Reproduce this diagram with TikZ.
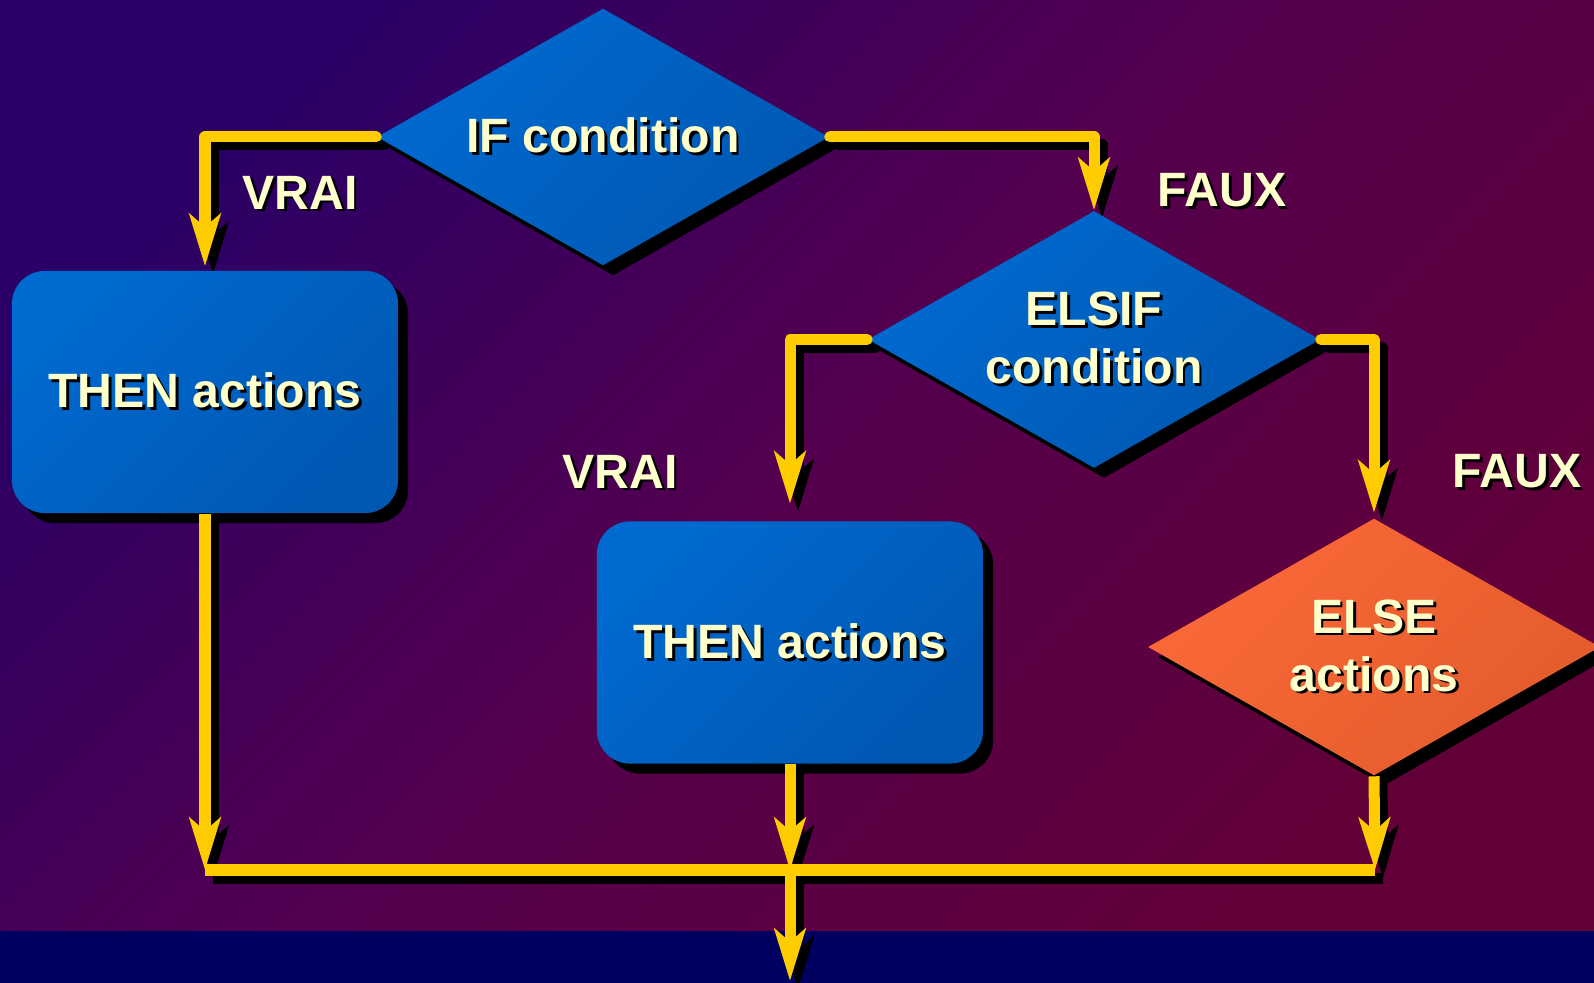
\documentclass[tikz,border=0pt]{standalone}
\usepackage{fontspec}
\setmainfont{Liberation Sans}
\usetikzlibrary{arrows.meta,shapes.geometric,shadows}

\definecolor{bgtl}{RGB}{42,0,102}
\definecolor{bgmid}{RGB}{84,0,78}
\definecolor{bgbr}{RGB}{98,0,56}
\definecolor{band}{RGB}{0,0,96}
\definecolor{boxhi}{RGB}{0,106,208}
\definecolor{boxlo}{RGB}{0,88,178}
\definecolor{elsehi}{RGB}{250,104,56}
\definecolor{elselo}{RGB}{228,92,44}
\definecolor{flowyellow}{RGB}{255,204,0}
\definecolor{cream}{RGB}{255,255,204}

\pgfdeclarelayer{backdrop}
\pgfdeclarelayer{linkshadow}
\pgfsetlayers{backdrop,linkshadow,main}

% text with a small black drop shadow
\newcommand\shd[1]{\leavevmode\rlap{\kern0.8pt\raisebox{-0.8pt}{\color{black}#1}}#1}

% all connectors, drawn once as shadow and once in colour
\newcommand\connectors[2]{%
  \draw[#1, line cap=round, shorten >=0.04cm] (ifd.west) -| (thenA.north);
  \draw[#1, line cap=round] (ifd.east) -| (elsif.north);
  \draw[#1, line cap=round, shorten >=0.17cm] (elsif.west) -| (thenB.north);
  \draw[#1, line cap=round, shorten >=0.05cm] (elsif.east) -| (elsed.north);
  \draw[#1] (thenA.south) -- (j1);
  \draw[#1] (thenB.south) -- (j2);
  \draw[#1] (elsed.south) -- (j3);
  \draw[#2] (j1) -- (j3);
  \draw[#1] (j2) -- (out);
}

\begin{document}
\begin{tikzpicture}[x=0.01cm,y=-0.01cm,
  lbl/.style={text=cream, font=\fontsize{13.7}{16.5}\selectfont\bfseries,
    inner sep=0pt, align=center},
  solidshadow/.style={drop shadow={shadow xshift=0.1cm, shadow yshift=-0.1cm,
    fill=black, opacity=1}},
  bluefill/.style={top color=boxhi, bottom color=boxlo, shading angle=45},
  orangefill/.style={top color=elsehi, bottom color=elselo, shading angle=45},
  decision/.style={diamond, shape aspect=1.75, lbl, minimum width=4.52cm,
    minimum height=2.57cm, solidshadow},
  action/.style={rectangle, rounded corners=0.33cm, lbl, minimum width=3.86cm,
    minimum height=2.42cm, solidshadow, bluefill},
  flowbar/.style={line width=0.11cm, line join=round, line cap=butt},
  flowarrow/.style={flowbar, -{Stealth[length=0.52cm,width=0.31cm,inset=0.13cm]}},
]
\useasboundingbox (0,0) rectangle (1594,983);

% backdrop
\begin{pgfonlayer}{backdrop}
  \shade[top color=bgtl, bottom color=bgbr, middle color=bgmid, shading angle=45]
    (0,0) rectangle (1594,931);
  \fill[band] (0,931) rectangle (1594,983);
\end{pgfonlayer}

% shapes
\node[decision, bluefill] (ifd) at (603,137) {\shd{IF condition}};
\node[action] (thenA) at (205,392) {\shd{THEN actions}};
\node[decision, bluefill] (elsif) at (1094,339.5) {\shd{ELSIF}\\\shd{condition}};
\node[action] (thenB) at (790,642.5) {\shd{THEN actions}};
\node[decision, orangefill] (elsed) at (1374,647) {\shd{ELSE}\\\shd{actions}};

% branch labels
\node[lbl] (vraiA) at (300,194) {\shd{VRAI}};
\node[lbl] (fauxA) at (1222,192) {\shd{FAUX}};
\node[lbl] (vraiB) at (620,473) {\shd{VRAI}};
\node[lbl] (fauxB) at (1517,473) {\shd{FAUX}};

% junction points on the collecting line
\coordinate (j1) at (205,870);
\coordinate (j2) at (790,870);
\coordinate (j3) at (1375,870);
\coordinate (out) at (790,981);

% connector shadows, then connectors
\begin{pgfonlayer}{linkshadow}
  \begin{scope}[transform canvas={shift={(0.08cm,-0.08cm)}}]
    \connectors{flowarrow, draw=black}{flowbar, draw=black}
  \end{scope}
\end{pgfonlayer}
\connectors{flowarrow, draw=flowyellow}{flowbar, draw=flowyellow}
\end{tikzpicture}
\end{document}
